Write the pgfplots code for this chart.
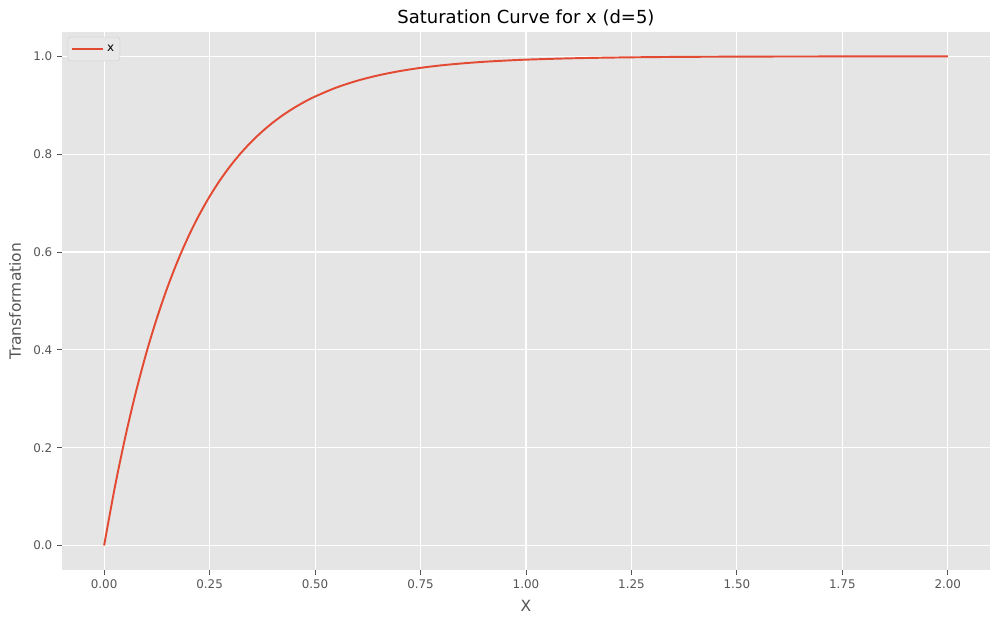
\documentclass[border=0pt]{standalone}
\usepackage{pgfplots}
\pgfplotsset{compat=1.18}
\usepackage{fontspec}
\setmainfont{DejaVu Sans}
\definecolor{bg}{HTML}{E5E5E5}
\definecolor{lgbg}{HTML}{E8E8E8}
\definecolor{lgbd}{HTML}{D2D2D2}
\definecolor{tk}{HTML}{555555}
\definecolor{ln}{HTML}{E24A33}
\begin{document}
\begin{tikzpicture}
\useasboundingbox (0,0) rectangle (720bp,449.28bp);
\begin{axis}[
  at={(44.6bp,38.9bp)}, anchor=south west,
  scale only axis, width=668.2bp, height=387.4bp,
  xmin=-0.1, xmax=2.1, ymin=-0.05, ymax=1.05,
  axis background/.style={fill=bg},
  axis line style={draw=none},
  grid=major, major grid style={white, line width=0.8pt},
  xtick={0,0.25,...,2.0}, ytick={0,0.2,...,1.0},
  xticklabel style={/pgf/number format/.cd,fixed,fixed zerofill,precision=2},
  yticklabel style={/pgf/number format/.cd,fixed,fixed zerofill,precision=1},
  /pgf/number format/assume math mode=true,
  tick label style={font=\fontsize{8.6}{10}\selectfont, text=tk},
  tick align=outside, tick pos=left,
  major tick length=3.5bp,
  tick style={tk, line width=0.6pt},
  title={Saturation Curve for x (d=5)},
  title style={font=\fontsize{13}{15}\selectfont, yshift=-5pt},
  xlabel={X}, ylabel={Transformation},
  label style={font=\fontsize{11.2}{13}\selectfont, text=tk},
  xlabel style={yshift=-1.5pt},
  ylabel style={yshift=2pt},
  legend style={font=\fontsize{8.6}{10}\selectfont, fill=lgbg, draw=lgbd, rounded corners=2pt, at={(0.006,0.991)}, anchor=north west, inner xsep=2pt, inner ysep=3.5pt},
  legend image code/.code={\draw[#1, line width=1.4pt] (0bp,0bp) -- (19.5bp,0bp); \path (0bp,0bp) -- (23bp,0bp);},
  legend cell align=left,
]
\addplot[ln, line width=1.4pt, smooth] coordinates {
(0,0) (0.025,0.1175) (0.05,0.2212) (0.075,0.3127) (0.1,0.3935) (0.125,0.4647)
(0.15,0.5276) (0.175,0.5831) (0.2,0.6321) (0.225,0.6753) (0.25,0.7135)
(0.275,0.7472) (0.3,0.7769) (0.325,0.8031) (0.35,0.8262) (0.375,0.8466)
(0.4,0.8647) (0.425,0.8806) (0.45,0.8946) (0.475,0.9070) (0.5,0.9179)
(0.55,0.9361) (0.6,0.9502) (0.65,0.9612) (0.7,0.9698) (0.75,0.9765)
(0.8,0.9817) (0.85,0.9857) (0.9,0.9889) (0.95,0.9913) (1.0,0.9933)
(1.1,0.9959) (1.2,0.9975) (1.3,0.9985) (1.4,0.9991) (1.5,0.9994)
(1.6,0.9997) (1.7,0.9998) (1.8,0.9999) (1.9,0.9999) (2.0,1.0)
};
\addlegendentry{x}
\end{axis}
\end{tikzpicture}
\end{document}
